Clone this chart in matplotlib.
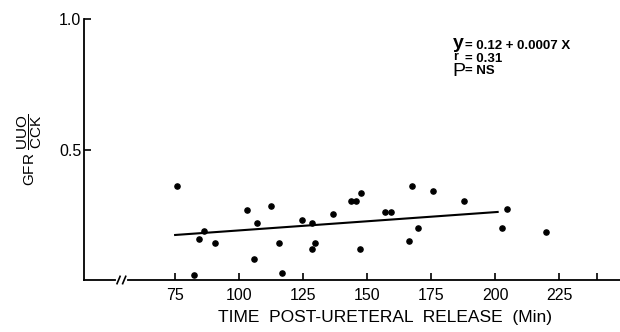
import matplotlib
matplotlib.use('Agg')
import matplotlib.pyplot as plt
import numpy as np

plt.rcParams['font.family'] = ['Liberation Sans', 'DejaVu Sans']
plt.rcParams['mathtext.fontset'] = 'custom'
plt.rcParams['mathtext.rm'] = 'Liberation Sans'

# Time post-ureteral release (min) and GFR ratio UUO / CCK
time_min = [75.9, 82.4, 84.5, 86.4, 90.5, 103.0, 105.9, 106.8, 112.5, 115.6,
            116.7, 124.7, 128.4, 128.6, 129.6, 136.8, 143.6, 145.7, 147.3, 147.8,
            157.0, 159.4, 166.4, 167.6, 170.0, 175.7, 188.0, 202.7, 204.7, 219.9]
gfr_ratio = [0.362, 0.018, 0.158, 0.188, 0.140, 0.270, 0.080, 0.218, 0.283, 0.140,
             0.028, 0.230, 0.220, 0.118, 0.140, 0.251, 0.304, 0.304, 0.118, 0.333,
             0.262, 0.262, 0.149, 0.362, 0.200, 0.342, 0.301, 0.200, 0.272, 0.182]

# regression y = 0.12 + 0.0007 x
intercept, slope = 0.12, 0.0007
fit_range = [75, 201]

xticks = [75, 100, 125, 150, 175, 200, 225]
extra_xtick = [240]

fig = plt.figure(figsize=(6.2, 3.32), dpi=100)
ax = fig.add_axes([84 / 620, 52 / 332, 1 - 84 / 620, (280 - 19) / 332])

ax.scatter(time_min, gfr_ratio, s=14, color='black', zorder=3)
fx = np.array(fit_range)
ax.plot(fx, intercept + slope * fx, color='black', lw=1.5)

ax.set_xlim(39.4, 248.8)
ax.set_ylim(0, 1.0)

ax.set_xticks(xticks)
ax.set_xticklabels([str(t) for t in xticks])
ax.set_xticks(extra_xtick, minor=True)
ax.set_yticks([0.5, 1.0])
ax.set_yticklabels(['0.5', '1.0'])

ax.tick_params(axis='x', which='both', direction='in', length=5, width=1.2,
               pad=6, labelsize=11.5)
ax.tick_params(axis='y', direction='in', length=5, width=1.2, pad=2,
               labelsize=11.5)

for side in ('top', 'right'):
    ax.spines[side].set_visible(False)
for side in ('left', 'bottom'):
    ax.spines[side].set_linewidth(1.3)

# axis break on the x axis
tr = ax.get_xaxis_transform()
ax.plot([52.6, 55.4], [0, 0], color='white', lw=3, transform=tr, clip_on=False, zorder=4)
for bx in (52.9, 55.1):
    ax.plot([bx - 0.6, bx + 0.6], [-0.014, 0.014], color='black', lw=1.2,
            transform=tr, clip_on=False, zorder=5)

ax.set_xlabel('TIME  POST-URETERAL  RELEASE  (Min)', fontsize=12.5)
ax.xaxis.set_label_coords(0.5616, -0.115)
ax.set_ylabel(r'GFR $\dfrac{\mathrm{UUO}}{\mathrm{CCK}}$', fontsize=11)
ax.yaxis.set_label_coords(-0.075, 0.5)

# statistics box
fig.text(453 / 620, 1 - 44 / 332, 'y', fontsize=14, va='center', weight='bold')
fig.text(465 / 620, 1 - 46 / 332, '= 0.12 + 0.0007 X', fontsize=9.5,
         va='center', weight='bold')
fig.text(453 / 620, 1 - 57 / 332, 'r', fontsize=9, va='center', weight='bold')
fig.text(465 / 620, 1 - 59 / 332, '= 0.31', fontsize=9.5, va='center', weight='bold')
fig.text(452 / 620, 1 - 71 / 332, 'P', fontsize=14, va='center')
fig.text(465 / 620, 1 - 71 / 332, '= NS', fontsize=9.5, va='center', weight='bold')

fig.savefig('out.png', dpi=100)
